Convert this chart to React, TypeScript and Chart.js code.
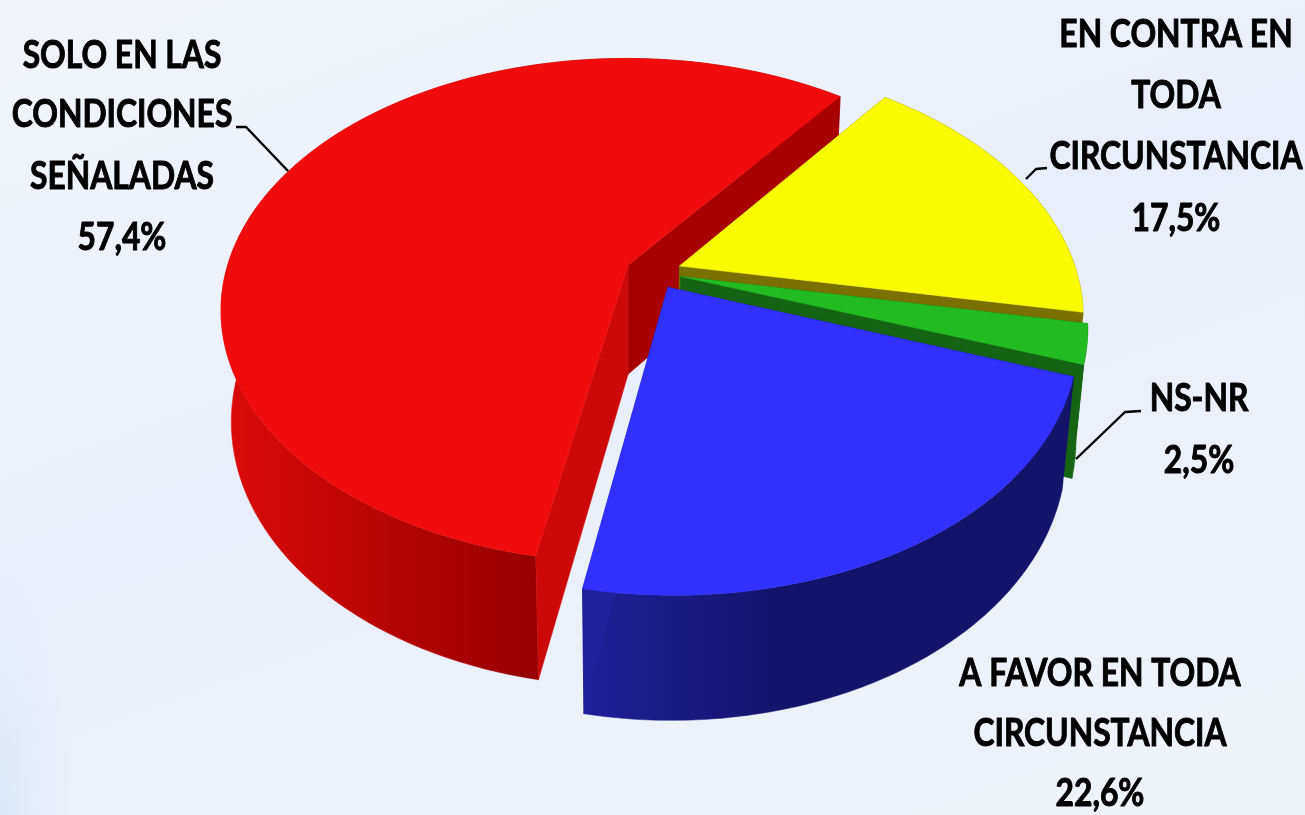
import React, { useEffect, useRef } from "react";
import { Chart, registerables, ArcElement, PieController } from "chart.js";

// ---- data ----
const categories = [
  "SOLO EN LAS CONDICIONES SEÑALADAS",
  "EN CONTRA EN TODA CIRCUNSTANCIA",
  "NS-NR",
  "A FAVOR EN TODA CIRCUNSTANCIA",
];
const values = [57.4, 17.5, 2.5, 22.6];

// ---- styles ----
const topColors = ["#F00C0C", "#FAFA00", "#22BB22", "#3030FF"];
const rimFrom = ["#DC0A0A", "#7A7000", "#146414", "#1F1F9A"];
const rimTo = ["#960000", "#7A7000", "#146414", "#13136A"];
const rimEndX = [535, 1100, 1100, 780];
const startCutColors = ["#CC0808", "#7A7000", "#146414", "#13136A"]; // wall at the slice's start angle
const endCutColors = ["#A80000", "#7A7000", "#146414", "#1F1F9A"]; // wall at the slice's end angle

// ---- labels ----
const labelBlocks = [
  { cx: 122, lines: ["SOLO EN LAS", "CONDICIONES", "SEÑALADAS", "57,4%"], baselines: [68, 127, 189, 250] },
  { cx: 1176, lines: ["EN CONTRA EN", "TODA", "CIRCUNSTANCIA", "17,5%"], baselines: [47, 108, 169, 231] },
  { cx: 1199, lines: ["NS-NR", "2,5%"], baselines: [411, 473] },
  { cx: 1100, lines: ["A FAVOR EN TODA", "CIRCUNSTANCIA", "22,6%"], baselines: [686, 746, 806] },
];
const leaders = [
  [[236, 127], [246, 127], [288, 171]],
  [[1047, 168], [1036, 169], [1026, 179]],
  [[1141, 411], [1125, 412], [1076, 459]],
];

// ---- view of the pie ----
const VIEW = { fx: 628, fy: 265, tilt: 0.6125, persp: 0.18, perspU: 0.006, depth: 112, depthPersp: 0.025, baseU: 0.064, baseV: 0.029, explode: 0.07 };

function project(R: number, u: number, v: number, h: number) {
  const s = 1 - VIEW.persp * v + VIEW.perspU * u + VIEW.depthPersp * h;
  return [VIEW.fx + (R * u) / s, VIEW.fy + (R * VIEW.tilt * v + VIEW.depth * h) / s];
}

class Arc3D extends ArcElement {
  static id = "arc3d";
  static defaults = ArcElement.defaults;
  static defaultRoutes = ArcElement.defaultRoutes;
  draw(ctx: CanvasRenderingContext2D) {
    const self = this as any;
    const { startAngle, endAngle, outerRadius: R } = self;
    const i = Math.max(0, topColors.indexOf(self.options.backgroundColor));
    const mid = (startAngle + endAngle) / 2;
    const au = VIEW.baseU + VIEW.explode * Math.cos(mid);
    const av = VIEW.baseV + VIEW.explode * Math.sin(mid);
    const N = 120;
    const rim = (h: number) => {
      const pts: number[][] = [];
      for (let k = 0; k <= N; k++) {
        const a = startAngle + ((endAngle - startAngle) * k) / N;
        pts.push(project(R, au + Math.cos(a), av + Math.sin(a), h));
      }
      return pts;
    };
    const top = rim(0);
    const bottom = rim(1);
    const apexTop = project(R, au, av, 0);
    const apexBottom = project(R, au, av, 1);
    const fill = (pts: number[][], color: any) => {
      ctx.beginPath();
      pts.forEach((p, k) => (k ? ctx.lineTo(p[0], p[1]) : ctx.moveTo(p[0], p[1])));
      ctx.closePath();
      ctx.fillStyle = color;
      ctx.strokeStyle = color;
      ctx.lineWidth = 0.5;
      ctx.fill();
      ctx.stroke();
    };
    // outer wall: shaded left to right across the part facing the viewer
    const leftX = Math.min(...top.map((p) => p[0]));
    const grad = ctx.createLinearGradient(leftX, 0, rimEndX[i], 0);
    grad.addColorStop(0, rimFrom[i]);
    grad.addColorStop(1, rimTo[i]);
    fill([...top, ...bottom.slice().reverse()], grad);
    // cut walls
    fill([apexTop, top[N], bottom[N], apexBottom], endCutColors[i]);
    fill([apexTop, top[0], bottom[0], apexBottom], startCutColors[i]);
    // top face
    fill([apexTop, ...top], topColors[i]);
  }
}

class Pie3D extends PieController {
  static id = "pie3d";
  static defaults = { ...PieController.defaults, dataElementType: "arc3d" };
  static overrides = PieController.overrides;
}

Chart.register(...registerables, Arc3D, Pie3D);

const labelPlugin = {
  id: "sliceLabels",
  afterDatasetsDraw(chart: any) {
    const ctx: CanvasRenderingContext2D = chart.ctx;
    ctx.save();
    ctx.strokeStyle = "#000";
    ctx.lineWidth = 2.4;
    ctx.lineJoin = "round";
    leaders.forEach((pts) => {
      ctx.beginPath();
      pts.forEach((p, k) => (k ? ctx.lineTo(p[0], p[1]) : ctx.moveTo(p[0], p[1])));
      ctx.stroke();
    });
    ctx.fillStyle = "#000";
    ctx.font = 'bold 39px Lato, "Open Sans", sans-serif';
    ctx.textAlign = "center";
    ctx.textBaseline = "alphabetic";
    ctx.lineWidth = 1;
    const sx = 0.815;
    labelBlocks.forEach((b) => {
      b.lines.forEach((line, k) => {
        ctx.save();
        ctx.translate(b.cx, b.baselines[k]);
        ctx.scale(sx, 1);
        ctx.fillText(line, 0, 0);
        ctx.strokeText(line, 0, 0);
        ctx.restore();
      });
    });
    ctx.restore();
  },
};

export default function App() {
  const ref = useRef<HTMLCanvasElement>(null);
  useEffect(() => {
    const chart = new Chart(ref.current as HTMLCanvasElement, {
      type: "pie3d" as any,
      data: {
        labels: categories,
        datasets: [{ data: values, backgroundColor: topColors, borderWidth: 0, rotation: 191 } as any],
      },
      options: {
        responsive: false,
        animation: false,
        layout: { padding: { left: 256, right: 253, top: 9.5, bottom: 9.5 } },
        plugins: { legend: { display: false }, tooltip: { enabled: false } },
      } as any,
      plugins: [labelPlugin],
    });
    return () => chart.destroy();
  }, []);
  return (
    <div
      style={{
        position: "fixed",
        inset: 0,
        overflow: "hidden",
        background:
          "radial-gradient(ellipse 70px 260px at 0px 815px, #DCE8F6 0%, rgba(220,232,246,0) 100%), linear-gradient(160deg, #F2F5FB 0%, #E9EFFA 45%, #EFF3FA 100%)",
      }}
    >
      <canvas ref={ref} width={1305} height={815} style={{ display: "block" }} />
    </div>
  );
}
